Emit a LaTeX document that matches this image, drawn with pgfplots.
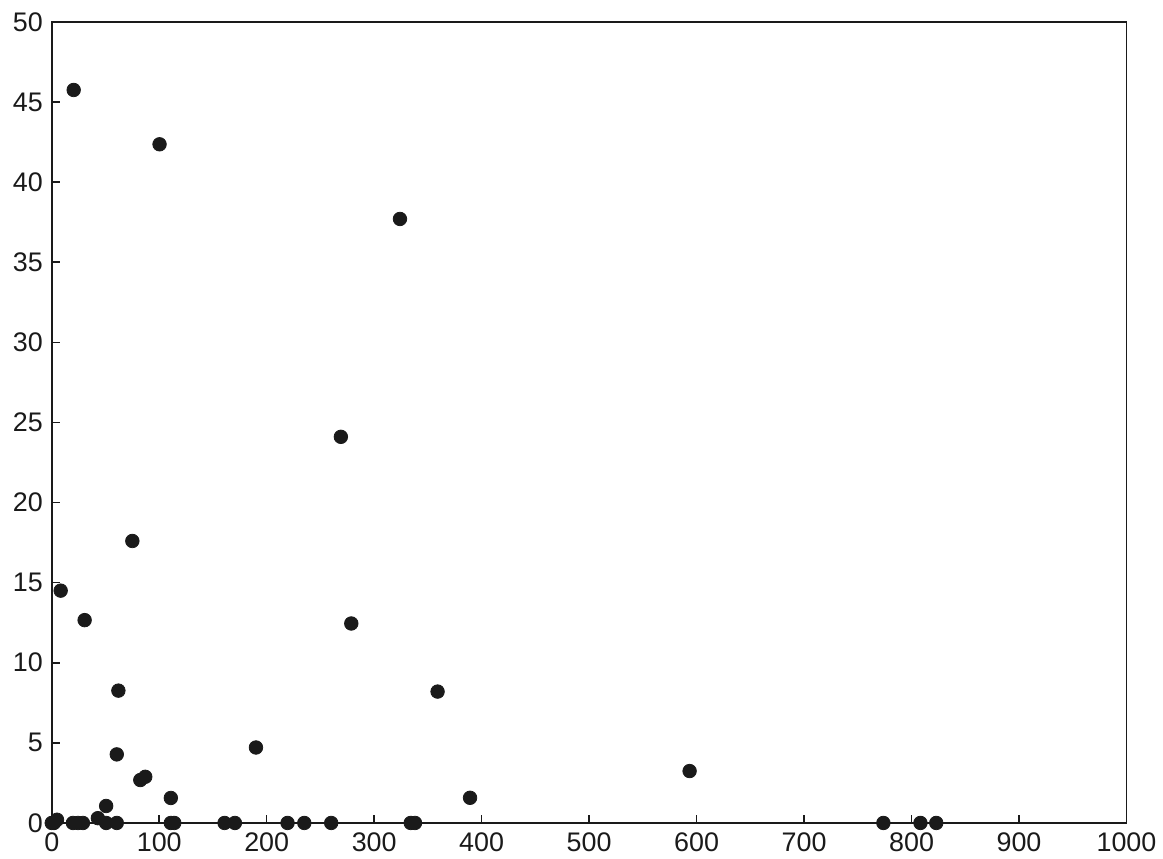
\documentclass[border=0pt]{standalone}
\usepackage{pgfplots}
\pgfplotsset{compat=1.18}
\usepackage{fontspec}
\setmainfont{Liberation Sans}
\definecolor{ink}{HTML}{1A1A1A}
\begin{document}
\begin{tikzpicture}
\begin{axis}[
  scale only axis,
  width=540pt, height=402.5pt,
  xmin=0, xmax=1000, ymin=0, ymax=50,
  xtick={0,100,...,1000}, ytick={0,5,...,50},
  tick pos=left, tick align=inside,
  major tick length=4pt,
  axis line style={ink, line width=0.8pt},
  tick style={ink, line width=0.8pt},
  ticklabel style={font=\fontsize{13.5}{16}\selectfont, text=ink},
  xticklabel style={yshift=-1.5pt},
  yticklabel style={xshift=-1pt},
  /pgf/number format/assume math mode=true,
  /pgf/number format/1000 sep={},
  clip=false,
]
\path (axis description cs:-0.04815,-0.0385) rectangle (axis description cs:1.0287,1.02733);
\addplot[only marks, mark=*, mark size=3.4pt, mark options={fill=ink, draw=ink}] coordinates {
(0,0) (2,0) (4.9,0.2) (8.3,14.5) (19.7,0) (20.4,45.75) (24.4,0) (29,0)
(30.6,12.66) (42.9,0.3) (50.6,1.06) (50.6,0) (60.5,4.28) (60.5,0) (62,8.26)
(75,17.6) (82.4,2.68) (87,2.88) (100.3,42.36) (110.8,1.56) (110.8,0) (114,0)
(160.8,0) (170.4,0) (190,4.71) (219.4,0) (235,0) (260,0) (269,24.1)
(278.7,12.45) (324,37.7) (334,0) (338,0) (359,8.2) (389.2,1.57)
(593.5,3.24) (773.8,0) (808.3,0) (823,0)
};
\end{axis}
\end{tikzpicture}
\end{document}
